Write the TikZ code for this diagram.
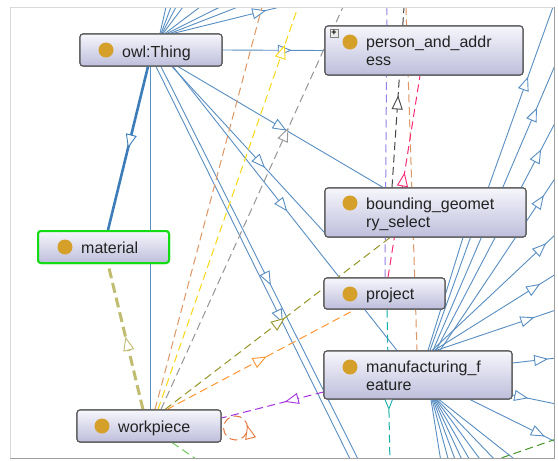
\documentclass[tikz,border=0pt]{standalone}
\usepackage{fontspec}
\setmainfont{Liberation Sans}
\usetikzlibrary{arrows.meta,decorations.markings}
\definecolor{edgeblue}{RGB}{88,142,194}
\definecolor{thickblue}{RGB}{60,125,185}
\definecolor{boxline}{RGB}{85,85,85}
\definecolor{boxtop}{RGB}{246,246,252}
\definecolor{boxbot}{RGB}{190,190,220}
\definecolor{dotcol}{RGB}{212,160,42}
\definecolor{tancol}{RGB}{222,150,100}
\definecolor{goldcol}{RGB}{250,215,20}
\definecolor{graycol}{RGB}{150,150,150}
\definecolor{olivecol}{RGB}{150,150,40}
\definecolor{orangecol}{RGB}{255,150,50}
\definecolor{purplecol}{RGB}{165,50,220}
\definecolor{loopcol}{RGB}{230,120,60}
\definecolor{lgreencol}{RGB}{110,200,90}
\definecolor{dgreencol}{RGB}{70,150,40}
\definecolor{tealcol}{RGB}{20,175,170}
\definecolor{lavcol}{RGB}{150,130,230}
\definecolor{darkcol}{RGB}{70,70,70}
\definecolor{pinkcol}{RGB}{250,40,120}
\definecolor{khakicol}{RGB}{192,188,112}
\definecolor{matgreen}{RGB}{20,220,20}
\definecolor{txtcol}{RGB}{35,35,35}
\tikzset{
  bedge/.style={draw=edgeblue, line width=0.9pt},
  dashe/.style={dash pattern=on 8pt off 4.5pt, line width=1pt},
  midarr/.style={postaction={decorate}, decoration={markings,
     mark=at position #1 with {\arrow{Triangle[length=14pt,width=11pt,fill=white,line width=0.9pt]}}}},
  cls/.style={rectangle, rounded corners=3pt, draw=boxline, line width=1.1pt,
     top color=boxtop, bottom color=boxbot, inner sep=0pt},
  lbl/.style={anchor=base west, inner sep=0pt, text=txtcol, font=\fontsize{16}{18}\selectfont},
  dotn/.style={circle, fill=dotcol, minimum size=15pt, inner sep=0pt},
}
\begin{document}
\begin{tikzpicture}[x=1pt,y=-1pt]
\useasboundingbox (0,0) rectangle (558,461);
\fill[white] (0,0) rectangle (558,461);

% class boxes (positions)
\node[cls, minimum width=142pt, minimum height=32pt] (thing) at (151,50) {};
\node[cls, minimum width=198pt, minimum height=49pt] (pa) at (424,50.5) {};
\node[cls, minimum width=201pt, minimum height=49pt] (bg) at (425.5,212.5) {};
\node[cls, draw=matgreen, line width=2pt, minimum width=131pt, minimum height=32pt] (mat) at (103.5,247) {};
\node[cls, minimum width=121pt, minimum height=31pt] (proj) at (384.5,293.5) {};
\node[cls, minimum width=188pt, minimum height=48pt] (mf) at (418,375) {};
\node[cls, minimum width=144pt, minimum height=32pt] (wp) at (149,426) {};

% free ends
\coordinate (b1e) at (353,465);
\coordinate (b2e) at (361,465);
\coordinate (tf1) at (166,7);
\coordinate (tf2) at (171,7);
\coordinate (tf3) at (176,7);
\coordinate (tf4) at (183,7);
\coordinate (tf5) at (200,7);
\coordinate (tf6) at (220,7);
\coordinate (tf7) at (238,7);
\coordinate (tf8) at (284,6);
\coordinate (l1) at (553,7);
\coordinate (l2) at (556,63);
\coordinate (l3) at (556,121);
\coordinate (l4) at (556,177);
\coordinate (m1) at (556,234);
\coordinate (m2) at (556,274);
\coordinate (m3) at (556,310);
\coordinate (m4) at (556,358);
\coordinate (m5) at (556,404);
\coordinate (m6) at (556,442);
\coordinate (bf1) at (441,462);
\coordinate (bf2) at (449,462);
\coordinate (bf3) at (456,462);
\coordinate (bf4) at (463,462);
\coordinate (bf5) at (471,462);
\coordinate (bf6) at (482,462);
\coordinate (bf7) at (497,462);
\coordinate (bf8) at (518,462);
\coordinate (d1) at (262,7);
\coordinate (d2) at (298,7);
\coordinate (d3) at (343,7);
\coordinate (d8) at (212,470);
\coordinate (d9a) at (478,466);
\coordinate (d9b) at (562,437);
\coordinate (d10) at (390,465);
\coordinate (d11) at (406,7);
\coordinate (d12) at (387,7);
\coordinate (d13) at (404,7);

\begin{scope}
\clip (10,7) rectangle (554,458);
% blue edges from owl:Thing
\draw[bedge] ([xshift=-1pt]thing.south) -- ([xshift=1pt]wp.north);
\draw[draw=thickblue, line width=2.6pt, midarr=0.5] ([xshift=-3pt]thing.south) -- ([xshift=4.5pt]mat.north);
\draw[bedge, midarr=0.68] (thing.east) -- (pa.west);
\draw[bedge, midarr=0.53] ([xshift=27pt]thing.south) -- ([xshift=-42.5pt]bg.north);
\draw[bedge, midarr=0.61] ([xshift=21pt]thing.south) -- ([yshift=-20pt]bg.west);
\draw[bedge, midarr=0.51] ([xshift=22pt]thing.south) -- ([xshift=-21pt]mf.north);
\draw[bedge, midarr=0.644] ([xshift=5pt]thing.south) -- (b1e);
\draw[bedge, midarr=0.549] ([xshift=10pt]thing.south) -- (b2e);
\draw[bedge] ([xshift=9pt]thing.north) -- (tf1);
\draw[bedge] ([xshift=10pt]thing.north) -- (tf2);
\draw[bedge] ([xshift=11pt]thing.north) -- (tf3);
\draw[bedge] ([xshift=12pt]thing.north) -- (tf4);
\draw[bedge] ([xshift=14pt]thing.north) -- (tf5);
\draw[bedge] ([xshift=16pt]thing.north) -- (tf6);
\draw[bedge] ([xshift=19pt]thing.north) -- (tf7);
\draw[bedge, midarr=0.84] ([xshift=22pt]thing.north) -- (tf8);
% blue edges from manufacturing_feature
\draw[bedge, midarr=0.797] ([xshift=12pt]mf.north) -- (l1);
\draw[bedge, midarr=0.845] ([xshift=15pt]mf.north) -- (l2);
\draw[bedge, midarr=0.876] ([xshift=18pt]mf.north) -- (l3);
\draw[bedge, midarr=0.895] ([xshift=22pt]mf.north) -- (l4);
\draw[bedge] ([xshift=10pt]mf.north) -- ([xshift=37.5pt]bg.south);
\draw[bedge, midarr=0.92] ([xshift=14pt]mf.north) -- (m1);
\draw[bedge, midarr=0.87] ([xshift=16pt]mf.north) -- (m2);
\draw[bedge, midarr=0.82] ([xshift=18pt]mf.north) -- (m3);
\draw[bedge, midarr=0.82] ([yshift=12pt]mf.east) -- (m4);
\draw[bedge, midarr=0.36] ([yshift=-20pt]mf.east) -- (m5);
\draw[bedge, midarr=0.87] ([xshift=52pt]mf.south) -- (m6);
\draw[bedge] ([xshift=13pt]mf.south) -- (bf1);
\draw[bedge] ([xshift=14pt]mf.south) -- (bf2);
\draw[bedge] ([xshift=15pt]mf.south) -- (bf3);
\draw[bedge] ([xshift=16pt]mf.south) -- (bf4);
\draw[bedge] ([xshift=17pt]mf.south) -- (bf5);
\draw[bedge] ([xshift=18pt]mf.south) -- (bf6);
\draw[bedge] ([xshift=19pt]mf.south) -- (bf7);
\draw[bedge] ([xshift=21pt]mf.south) -- (bf8);
% dashed edges
\draw[dashe, draw=tancol] ([xshift=6pt]wp.north) -- (d1);
\draw[dashe, draw=goldcol, midarr=0.906] ([xshift=9pt]wp.north) -- (d2);
\draw[dashe, draw=graycol, midarr=0.70] ([xshift=12pt]wp.north) -- (d3);
\draw[dashe, draw=olivecol, midarr=0.533] ([xshift=16pt]wp.north) -- ([xshift=-35.5pt]bg.south);
\draw[dashe, draw=orangecol, midarr=0.53] ([xshift=18pt]wp.north) -- ([xshift=-29.5pt]proj.south);
\draw[dashe, draw=purplecol, midarr=0.38] ([yshift=-17pt]mf.west) -- ([yshift=8pt]wp.east);
\draw[dashe, draw=loopcol, midarr=0.04] ([xshift=14pt,yshift=-2pt]wp.east) circle[radius=12pt];
\draw[dashe, draw=lgreencol] ([xshift=23pt]wp.south) -- (d8);
\draw[dashe, draw=dgreencol] (d9a) -- (d9b);
\draw[dashe, draw=tealcol, midarr=0.647] ([xshift=2.5pt]proj.south) -- (d10);
\draw[dashe, draw=tancol] (d11) -- ([xshift=-1pt]mf.north);
\draw[dashe, draw=lavcol] (d12) -- ([xshift=0.5pt]proj.north);
\draw[dashe, draw=darkcol, midarr=0.51] ([xshift=-33.5pt]bg.north) -- (d13);
\draw[dashe, draw=pinkcol, midarr=0.52] ([xshift=3.5pt]proj.north) -- ([xshift=-4pt]pa.south);
\draw[dash pattern=on 10pt off 5pt, line width=3pt, draw=khakicol, midarr=0.5] ([xshift=-6pt]wp.north) -- ([xshift=4.5pt]mat.south);
\end{scope}

% boxes on top
\node[cls, minimum width=142pt, minimum height=32pt] (thingb) at (thing) {};
\node[cls, minimum width=198pt, minimum height=49pt] (pab) at (pa) {};
\node[cls, minimum width=201pt, minimum height=49pt] (bgb) at (bg) {};
\node[cls, draw=matgreen, line width=2pt, minimum width=131pt, minimum height=32pt] (matb) at (mat) {};
\node[cls, minimum width=121pt, minimum height=31pt] (projb) at (proj) {};
\node[cls, minimum width=188pt, minimum height=48pt] (mfb) at (mf) {};
\node[cls, minimum width=144pt, minimum height=32pt] (wpb) at (wp) {};

% dots and labels
\node[dotn] (thingdot) at (106,50) {};
\node[lbl] (thingl) at (122,57) {owl:Thing};
\node[dotn] (padot) at (350,42) {};
\node[lbl] (pal1) at (366,47) {person\_and\_addr};
\node[lbl] (pal2) at (366,65) {ess};
\node[draw=gray, fill=gray!15, minimum size=8pt, inner sep=0pt, line width=0.6pt,
      font=\fontsize{9}{9}\selectfont\bfseries] (paplus) at (334,33) {+};
\node[dotn] (bgdot) at (350,203) {};
\node[lbl] (bgl1) at (366,209) {bounding\_geomet};
\node[lbl] (bgl2) at (366,227) {ry\_select};
\node[dotn] (matdot) at (65,247) {};
\node[lbl] (matl) at (81,253) {material};
\node[dotn] (projdot) at (350,294) {};
\node[lbl] (projl) at (366,299) {project};
\node[dotn] (mfdot) at (350,367) {};
\node[lbl] (mfl1) at (366,372) {manufacturing\_f};
\node[lbl] (mfl2) at (366,390) {eature};
\node[dotn] (wpdot) at (102,426) {};
\node[lbl] (wpl) at (118,432) {workpiece};

% canvas frame
\draw[gray!30, line width=0.8pt] (10,458) -- (10,7) -- (554,7);
\draw[gray!75, line width=1.6pt] (554.5,7) -- (554.5,458.5) -- (10,458.5);
\end{tikzpicture}
\end{document}
